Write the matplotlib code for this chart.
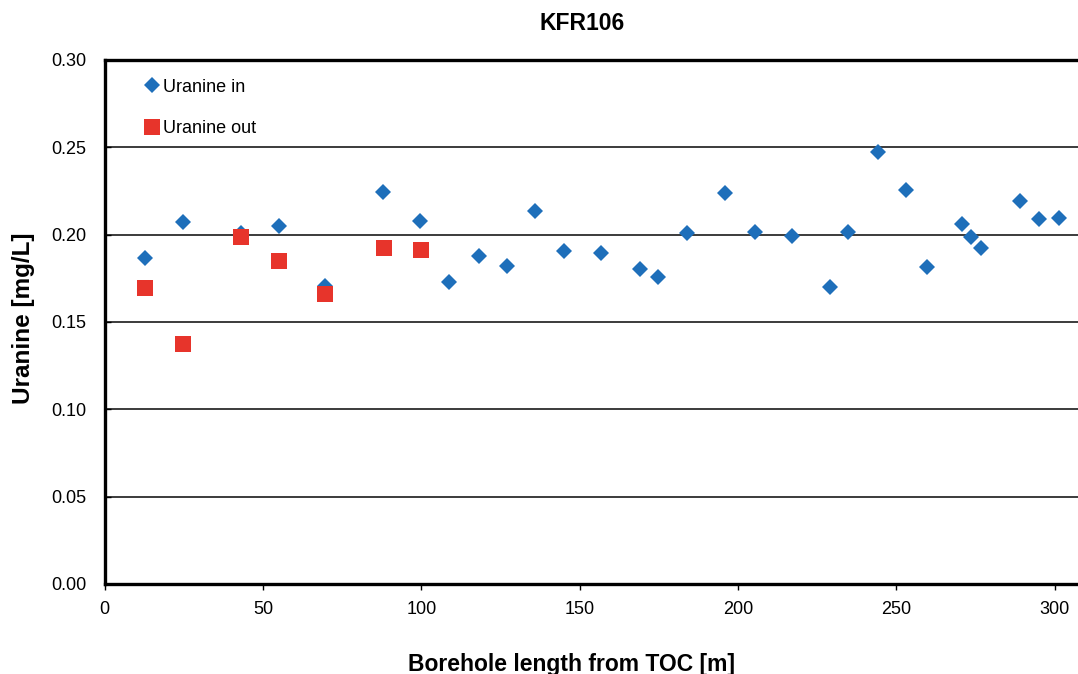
import matplotlib
matplotlib.use("Agg")
import matplotlib.pyplot as plt
from matplotlib.lines import Line2D

plt.rcParams['font.family'] = ['Liberation Sans', 'DejaVu Sans']

# Data
length_in = [12.8, 24.8, 43.1, 55.0, 69.7, 87.9, 99.7, 108.7, 118.1, 127.1,
             135.9, 144.9, 156.7, 169.0, 174.8, 183.9, 195.9, 205.3, 217.0, 229.0,
             234.7, 244.3, 253.0, 259.6, 270.7, 273.5, 276.8, 289.0, 295.0, 301.2]
uranine_in = [0.1865, 0.2074, 0.2010, 0.2049, 0.1705, 0.2244, 0.2080, 0.1730, 0.1877, 0.1822,
              0.2137, 0.1908, 0.1896, 0.1806, 0.1759, 0.2007, 0.2240, 0.2018, 0.1995, 0.1699,
              0.2018, 0.2475, 0.2255, 0.1814, 0.2060, 0.1988, 0.1925, 0.2192, 0.2087, 0.2097]
length_out = [12.8, 24.8, 43.1, 55.1, 69.6, 88.2, 99.9]
uranine_out = [0.1697, 0.1376, 0.1984, 0.1852, 0.1663, 0.1921, 0.1915]

x_ticks = [0, 50, 100, 150, 200, 250, 300]
y_ticks = [0.00, 0.05, 0.10, 0.15, 0.20, 0.25, 0.30]

BLUE = '#1E6FBA'
RED = '#E7342B'
FS = 13

fig = plt.figure(figsize=(10.78, 6.74), dpi=100)
ax = fig.add_axes([104.5/1078, 90/674, 310*3.168/1078, 524/674])

ax.set_xlim(0, 310)
ax.set_ylim(0, 0.30)
ax.set_xticks(x_ticks)
ax.set_yticks(y_ticks)
ax.set_yticklabels([f"{v:.2f}" for v in y_ticks])

ax.grid(axis='y', color='#1a1a1a', linewidth=1.2, zorder=1)
ax.set_axisbelow(True)

for side in ['left', 'bottom', 'top', 'right']:
    ax.spines[side].set_linewidth(2.4)
    ax.spines[side].set_color('black')

ax.tick_params(axis='x', direction='out', length=4, width=1, pad=8, labelsize=FS)
ax.tick_params(axis='y', direction='in', length=4, width=1, pad=13, labelsize=FS)

ax.plot(length_in, uranine_in, linestyle='none', marker='D', markersize=8.5,
        color=BLUE, markeredgewidth=0, zorder=3, clip_on=False)
ax.plot(length_out, uranine_out, linestyle='none', marker='s', markersize=11.5,
        color=RED, markeredgewidth=0, zorder=4, clip_on=False)

handles = [Line2D([], [], linestyle='none', marker='D', markersize=8.5, color=BLUE, markeredgewidth=0),
           Line2D([], [], linestyle='none', marker='s', markersize=11.5, color=RED, markeredgewidth=0)]
fig.legend(handles, ['Uranine in', 'Uranine out'], loc='upper left',
           bbox_to_anchor=(142.5/1078, 1 - 78.5/674), frameon=False, fontsize=FS,
           handlelength=1.0, handletextpad=0.14, labelspacing=1.38, borderpad=0,
           borderaxespad=0)

fig.text(582/1078, 1 - 24/674, 'KFR106', ha='center', va='center',
         fontsize=16.5, fontweight='bold')
fig.text(571.5/1078, 1 - 671/674, 'Borehole length from TOC [m]', ha='center',
         va='baseline', fontsize=16.5, fontweight='bold')
fig.text(24/1078, 1 - 318/674, 'Uranine [mg/L]', ha='center', va='center',
         rotation=90, fontsize=17.5, fontweight='bold')

fig.savefig('out.png', dpi=100)
